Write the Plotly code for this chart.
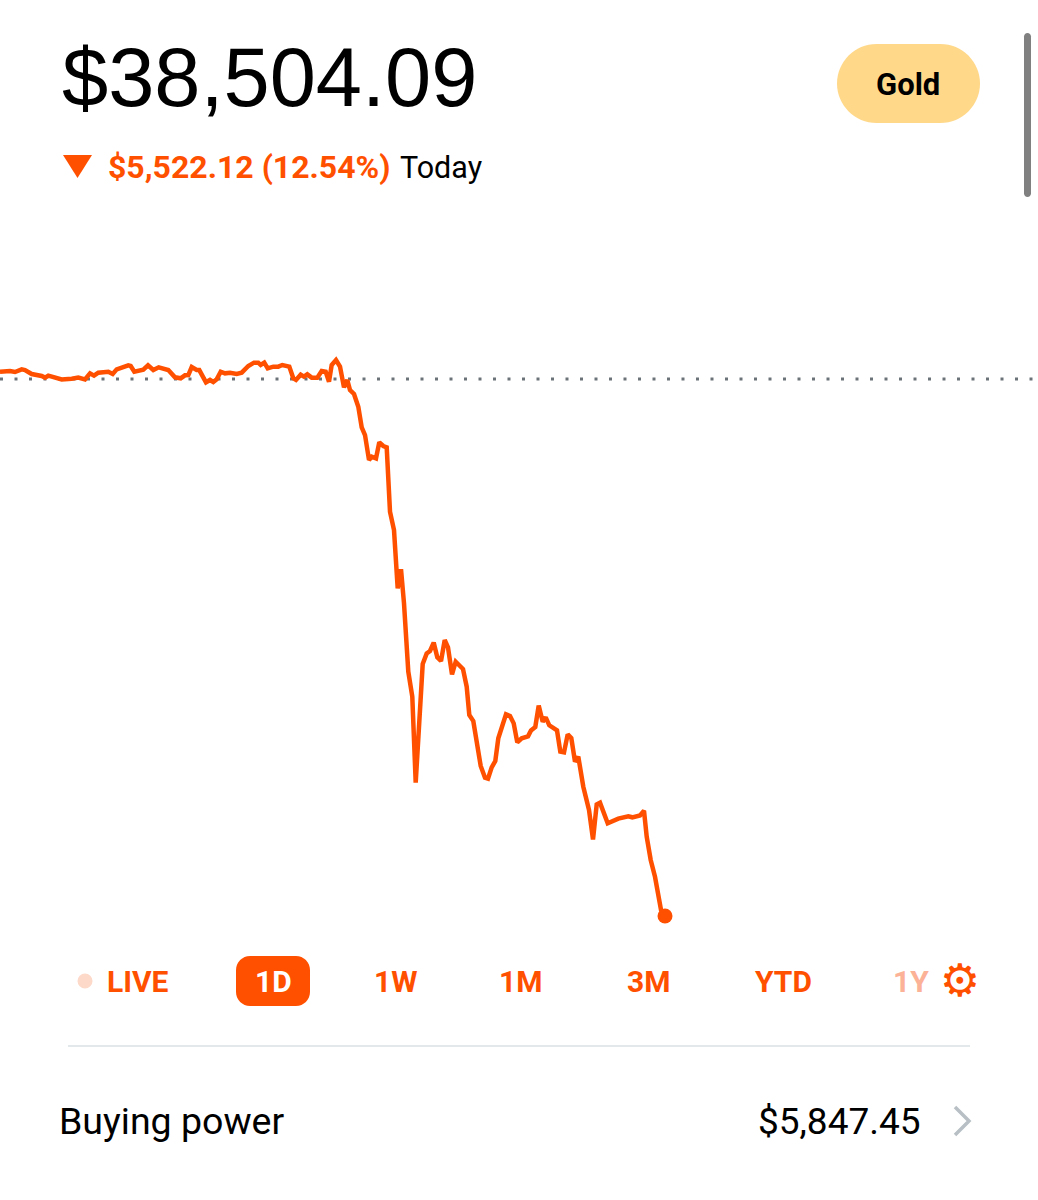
"""Brokerage account screen: one-day portfolio value chart with header and range tabs."""

import plotly.graph_objects as go

WIDTH = 1038
HEIGHT = 1200

ORANGE = "#ff5000"
ORANGE_FADED = "#fbb297"
ORANGE_PALE = "#fdd9c9"
GOLD = "#ffd88a"
BLACK = "#000000"
GREY_DOT = "#6b7378"

# Position along the trading day.
session_pos = [
    0, 10, 15, 21.7, 25, 31.7, 41.7, 45, 48.3, 55, 61.7, 71.7, 78.3, 85, 90, 94, 98.3, 108.3,
    112.7, 116.7, 128.3, 130.7, 134.3, 143.3, 148, 153.3, 158.7, 168.3, 175, 180.7, 185, 188.3,
    191.7, 196.7, 199.3, 206, 210, 213.3, 216.7, 220.7, 225, 230, 236.7, 241.7, 248.3, 254, 258.3,
    260.7, 264.3, 267.7, 273.3, 278.3, 282.3, 289.3, 293.3, 296, 300.7, 304, 307.3, 311.7, 317.3,
    321.7, 325.7, 329, 331.7, 336, 340, 344, 347.3, 350, 354, 358.3, 361.7, 365, 369, 371.7, 376,
    379.3, 383.3, 386.7, 388.3, 390, 394, 397.7, 401,
    404, 408.3, 412.3, 415.7, 420, 422.7, 426.7, 430, 433.7, 437.3, 441, 444.7, 448, 452, 455.7,
    460, 463, 466.7, 469.3, 473.3, 476.7, 480.7, 485, 488, 491.7, 495.3, 498.3, 501.7, 506, 510,
    513.7, 517.3, 521.7, 528, 531, 535.3, 538.7, 542.7, 545.7, 549.3, 557, 560.3, 564, 567.7,
    571.3, 575, 578.3, 583.3, 589, 593, 596.7, 600, 607.7, 618.3, 628.3, 632.3, 636.7, 640, 644,
    646.7, 650.7, 655, 661, 665,
]
# Portfolio value in dollars at each position.
portfolio_value = [
    44101, 44108, 44098, 44125, 44118, 44077, 44057, 44040, 44060, 44046, 44022, 44029, 44040,
    44022, 44084, 44060, 44091, 44101, 44077, 44125, 44166, 44160, 44101, 44122, 44166, 44118,
    44146, 44118, 44043, 44033, 44064, 44067, 44149, 44118, 44118, 43992, 44016, 43995, 44022,
    44101, 44084, 44091, 44077, 44091, 44160, 44194, 44194, 44170, 44194, 44136, 44153, 44153,
    44170, 44153, 44033, 44016, 44070, 44050, 44074, 44040, 44040, 44108, 44101, 43998, 44170,
    44221, 44153, 43940, 44016, 43913, 43872, 43741, 43529, 43450, 43193, 43227, 43210, 43375,
    43337, 43323, 42919, 42662, 42473, 41873, 42069,
    41719, 41017, 40760, 39875, 40657, 41095, 41205, 41229, 41315, 41164, 41126, 41342, 41267,
    40989, 41119, 41075, 41044, 40862, 40571, 40509, 40297, 40047, 39926, 39916, 40033, 40098,
    40331, 40434, 40578, 40561, 40485, 40290, 40331, 40352, 40413, 40448, 40667, 40502, 40547,
    40465, 40413, 40194, 40187, 40372, 40334, 40091, 40142, 39834, 39594, 39292, 39652, 39669,
    39457, 39505, 39529, 39519, 39536, 39539, 39587, 39320, 39080, 38908, 38566, 38504.09,
]

previous_close = 44026.21

range_labels = ["LIVE", "1D", "1W", "1M", "3M", "YTD", "1Y"]
range_centers = [138, 273, 395, 520, 648, 783, 911]
range_colors = [ORANGE, "#ffffff", ORANGE, ORANGE, ORANGE, ORANGE, ORANGE_FADED]


def px(x):
    return x / WIDTH


def py(y):
    return 1 - y / HEIGHT


def rounded_rect(x0, y0, x1, y1, r):
    """SVG path of a rounded rectangle, in paper fractions."""
    def pt(x, y):
        return f"{px(x)} {py(y)}"

    k = 0.45 * r  # control point offset for a near-circular corner
    return (
        f"M {pt(x0 + r, y0)} L {pt(x1 - r, y0)} "
        f"C {pt(x1 - k, y0)} {pt(x1, y0 + k)} {pt(x1, y0 + r)} "
        f"L {pt(x1, y1 - r)} C {pt(x1, y1 - k)} {pt(x1 - k, y1)} {pt(x1 - r, y1)} "
        f"L {pt(x0 + r, y1)} C {pt(x0 + k, y1)} {pt(x0, y1 - k)} {pt(x0, y1 - r)} "
        f"L {pt(x0, y0 + r)} C {pt(x0, y0 + k)} {pt(x0 + k, y0)} {pt(x0 + r, y0)} Z"
    )


def label(fig, x, y, text, size, color, family="Liberation Sans", anchor="left", bold=False):
    fig.add_annotation(
        x=px(x), y=py(y), xref="paper", yref="paper", text=f"<b>{text}</b>" if bold else text,
        showarrow=False, xanchor=anchor, yanchor="middle",
        font={"family": family, "size": size, "color": color},
    )


fig = go.Figure()
fig.add_scatter(
    x=session_pos,
    y=portfolio_value,
    mode="lines",
    line={"color": ORANGE, "width": 4.5},
    hoverinfo="skip",
)
fig.add_scatter(
    x=session_pos[-1:],
    y=portfolio_value[-1:],
    mode="markers",
    marker={"color": ORANGE, "size": 15},
    hoverinfo="skip",
)
fig.add_shape(
    type="line", xref="paper", yref="y", x0=0, x1=1, y0=previous_close, y1=previous_close,
    line={"color": GREY_DOT, "width": 3, "dash": "3px,11.5px"}, layer="below",
)

# Header
fig.add_shape(type="path", xref="paper", yref="paper", path=rounded_rect(837, 44, 980, 123, 39.5),
              fillcolor=GOLD, line={"width": 0})
fig.add_shape(type="path", xref="paper", yref="paper", path=rounded_rect(1024, 33, 1031, 197, 3.5),
              fillcolor="#808080", line={"width": 0})
fig.add_shape(
    type="path", xref="paper", yref="paper",
    path=f"M {px(63)} {py(155)} L {px(92)} {py(155)} L {px(77.5)} {py(178)} Z",
    fillcolor=ORANGE, line={"width": 0},
)
label(fig, 60, 78, "$38,504.09", 83, BLACK)
label(fig, 908, 84, "Gold", 31, BLACK, family="Roboto", anchor="center", bold=True)
label(fig, 105.5, 167, "$5,522.12 (12.54%)", 32, ORANGE, family="Roboto", bold=True)
label(fig, 398, 167, "Today", 30.5, BLACK, family="Roboto")

# Range tabs
fig.add_shape(type="path", xref="paper", yref="paper", path=rounded_rect(236, 956, 310, 1006, 14),
              fillcolor=ORANGE, line={"width": 0})
fig.add_shape(type="circle", xref="paper", yref="paper", x0=px(77.5), x1=px(92.5), y0=py(973.5),
              y1=py(988.5), fillcolor=ORANGE_PALE, line={"width": 0})
for text, center, color in zip(range_labels, range_centers, range_colors):
    label(fig, center, 981, text, 30, color, family="Roboto", anchor="center", bold=True)
label(fig, 960, 980, "⚙", 45, ORANGE, family="DejaVu Sans", anchor="center", bold=True)

# Buying power row
fig.add_shape(type="line", xref="paper", yref="paper", x0=px(68), x1=px(970), y0=py(1046),
              y1=py(1046), line={"color": "#e3e8ea", "width": 2})
label(fig, 57, 1121, "Buying power", 37.5, BLACK, family="Roboto")
label(fig, 923, 1121, "$5,847.45", 37, BLACK, family="Roboto", anchor="right")
fig.add_shape(
    type="path", xref="paper", yref="paper",
    path=f"M {px(955)} {py(1107)} L {px(969)} {py(1121)} L {px(955)} {py(1135)}",
    line={"color": "#b8c0c5", "width": 3.5},
)

fig.update_layout(
    width=WIDTH,
    height=HEIGHT,
    margin={"l": 0, "r": 0, "t": 0, "b": 0},
    paper_bgcolor="#ffffff",
    plot_bgcolor="#ffffff",
    showlegend=False,
    xaxis={"range": [0, WIDTH], "visible": False, "fixedrange": True},
    yaxis={"range": [35584, 47923], "visible": False, "fixedrange": True},
)

fig.write_html(
    "out.html",
    config={"displayModeBar": False},
    post_script="document.body.style.margin = '0';",
)
